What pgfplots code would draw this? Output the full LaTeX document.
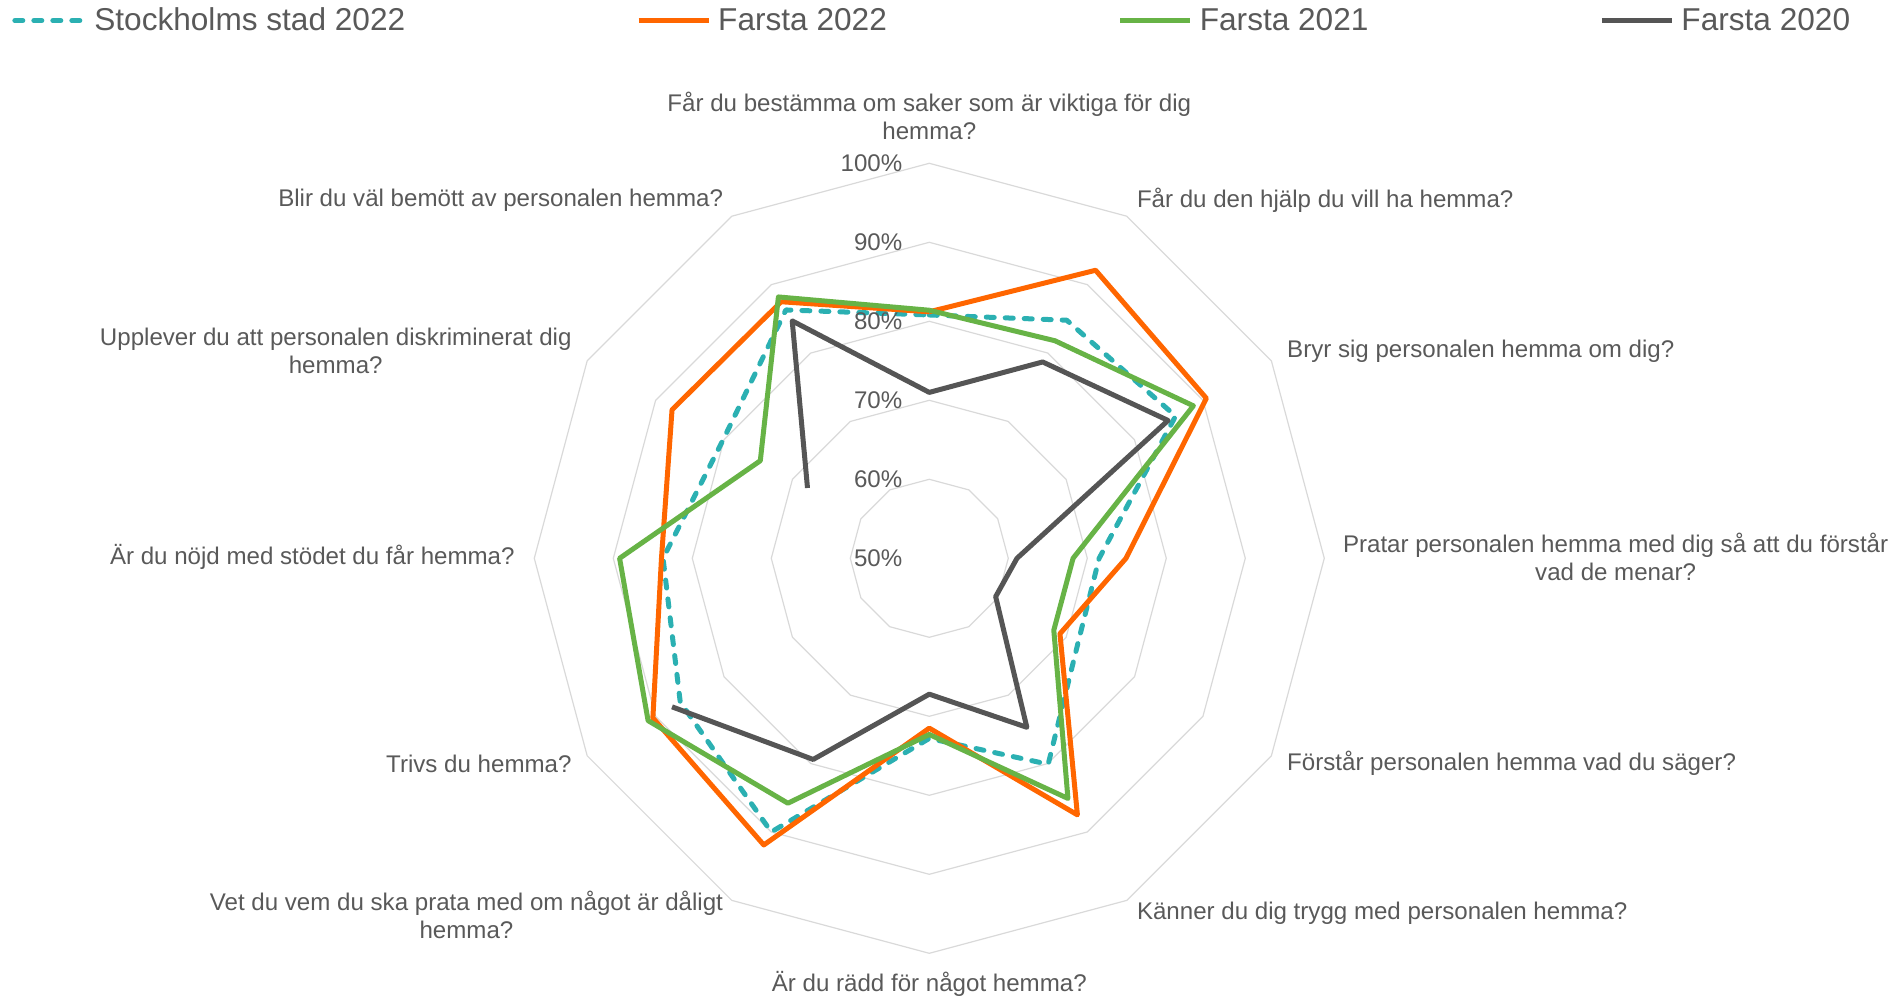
\documentclass[border=0pt]{standalone}
\usepackage{fontspec}
\setmainfont{Liberation Sans}
\usepackage{pgfplots}
\pgfplotsset{compat=1.18}
\usepgfplotslibrary{polar}
\definecolor{sthlm}{HTML}{2BB0B2}
\definecolor{f22}{HTML}{FF6600}
\definecolor{f21}{HTML}{67B346}
\definecolor{f20}{HTML}{555555}
\definecolor{gridc}{HTML}{D9D9D9}
\definecolor{txt}{HTML}{595959}
\begin{document}
\begin{tikzpicture}[font=\fontsize{12.05bp}{14bp}\selectfont, text=txt,
  every node/.append style={inner sep=0pt}]
\begin{polaraxis}[
  scale only axis, width=395bp, height=395bp,
  xmin=0, xmax=360, ymin=0, ymax=50,
  y filter/.expression={y-50},
  hide axis, clip=false,
  legend columns=4,
  legend style={at={(axis description cs:-0.6612,1.1806)}, anchor=west,
    draw=none, fill=none, inner sep=0pt,
    font=\fontsize{15.8bp}{19bp}\selectfont, text=txt,
    nodes={inner sep=0pt},
    /tikz/every odd column/.append style={column sep=3.5bp},
    /tikz/every even column/.append style={column sep=115.5bp}},
  legend image code/.code={\draw[#1] (0bp,0bp) -- (35bp,0bp);},
  every axis plot/.append style={line width=2.5bp, line join=round},
]
% grid rings 60..100 %
\pgfplotsinvokeforeach{60,70,80,90,100}{
  \addplot[forget plot, gridc, line width=0.6bp] coordinates
    {(0,#1)(30,#1)(60,#1)(90,#1)(120,#1)(150,#1)(180,#1)(210,#1)(240,#1)(270,#1)(300,#1)(330,#1)(360,#1)};
}
% Stockholms stad 2022
\addplot[sthlm, dash pattern=on 4bp off 5.5bp, line cap=round] coordinates
  {(90,80.8)(60,84.8)(30,86.0)(0,71.5)(330,71.7)(300,80.1)(270,72.8)(240,90.0)(210,86.4)(180,83.7)(150,80.1)(120,86.3)(90,80.8)};
\addlegendentry{Stockholms stad 2022}
% Farsta 2022
\addplot[f22] coordinates
  {(90,81.2)(60,92.1)(30,90.5)(0,74.9)(330,69.1)(300,87.5)(270,71.5)(240,91.9)(210,90.4)(180,83.9)(150,87.6)(120,87.5)(90,81.2)};
\addlegendentry{Farsta 2022}
% Farsta 2021
\addplot[f21] coordinates
  {(90,81.4)(60,81.8)(30,88.6)(0,68.2)(330,68.2)(300,85.1)(270,72.3)(240,85.8)(210,91.1)(180,89.2)(150,74.7)(120,88.2)(90,81.4)};
\addlegendentry{Farsta 2021}
% Farsta 2020 (no value for "Är du nöjd")
\addplot[f20] coordinates
  {(150,67.8)(120,84.7)(90,71.0)(60,78.7)(30,84.9)(0,61.1)(330,59.7)(300,74.7)(270,67.2)(240,79.4)(210,87.6)};
\addlegendentry{Farsta 2020}
% percent labels (axis cs is not filtered: value-50)
\begingroup
\fontsize{11.2bp}{13bp}\selectfont
\node[anchor=east, xshift=-13.3bp] at (axis cs:90,0) {50\%};
\node[anchor=east, xshift=-13.3bp] at (axis cs:90,10) {60\%};
\node[anchor=east, xshift=-13.3bp] at (axis cs:90,20) {70\%};
\node[anchor=east, xshift=-13.3bp] at (axis cs:90,30) {80\%};
\node[anchor=east, xshift=-13.3bp] at (axis cs:90,40) {90\%};
\node[anchor=east, xshift=-13.3bp] at (axis cs:90,50) {100\%};
\endgroup
\coordinate (O) at (axis cs:0,0);
\end{polaraxis}
% category labels
\node[align=center] at ([shift={(0bp,221.3bp)}]O) {Får du bestämma om saker som är viktiga för dig\\hemma?};
\node[anchor=west] at ([shift={(103.65bp,179.2bp)}]O) {Får du den hjälp du vill ha hemma?};
\node[anchor=west] at ([shift={(178.75bp,103.45bp)}]O) {Bryr sig personalen hemma om dig?};
\node[anchor=west, align=center] at ([shift={(206.65bp,0.75bp)}]O) {Pratar personalen hemma med dig så att du förstår\\vad de menar?};
\node[anchor=west] at ([shift={(178.75bp,-102.55bp)}]O) {Förstår personalen hemma vad du säger?};
\node[anchor=west] at ([shift={(103.65bp,-177.65bp)}]O) {Känner du dig trygg med personalen hemma?};
\node at ([shift={(0bp,-212.8bp)}]O) {Är du rädd för något hemma?};
\node[anchor=east, align=center] at ([shift={(-102.95bp,-178.55bp)}]O) {Vet du vem du ska prata med om något är dåligt\\hemma?};
\node[anchor=east] at ([shift={(-178.7bp,-102.55bp)}]O) {Trivs du hemma?};
\node[anchor=east] at ([shift={(-207.15bp,0.45bp)}]O) {Är du nöjd med stödet du får hemma?};
\node[anchor=east, align=center] at ([shift={(-178.7bp,103.75bp)}]O) {Upplever du att personalen diskriminerat dig\\hemma?};
\node[anchor=east] at ([shift={(-102.95bp,179.2bp)}]O) {Blir du väl bemött av personalen hemma?};
\pgfresetboundingbox
\path[use as bounding box] ([shift={(-464.65bp,-220.35bp)}]O) rectangle ([shift={(485.35bp,279.15bp)}]O);
\end{tikzpicture}
\end{document}
